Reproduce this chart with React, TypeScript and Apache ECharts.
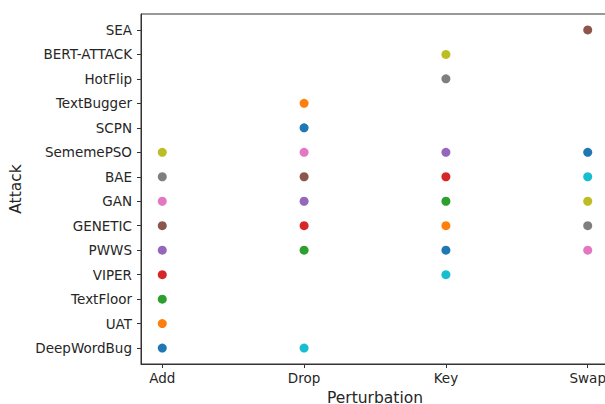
import React, { useEffect, useRef } from "react";
import * as echarts from "echarts";

const perturbations = ["Add", "Drop", "Key", "Swap"];
const attacks = [
  "DeepWordBug", "UAT", "TextFloor", "VIPER", "PWWS", "GENETIC", "GAN",
  "BAE", "SememePSO", "SCPN", "TextBugger", "HotFlip", "BERT-ATTACK", "SEA",
];
const addAttacks = ["DeepWordBug", "UAT", "TextFloor", "VIPER", "PWWS", "GENETIC", "GAN", "BAE", "SememePSO"];
const dropAttacks = ["DeepWordBug", "SCPN", "TextBugger", "PWWS", "GENETIC", "GAN", "BAE", "SememePSO"];
const keyAttacks = ["HotFlip", "BERT-ATTACK", "VIPER", "PWWS", "GENETIC", "GAN", "BAE", "SememePSO"];
const swapAttacks = ["SEA", "PWWS", "GENETIC", "GAN", "BAE", "SememePSO"];
const attacksByPerturbation = [addAttacks, dropAttacks, keyAttacks, swapAttacks];

const palette = [
  "#1f77b4", "#ff7f0e", "#2ca02c", "#d62728", "#9467bd",
  "#8c564b", "#e377c2", "#7f7f7f", "#bcbd22", "#17becf",
];

export default function App() {
  const ref = useRef<HTMLDivElement>(null);
  useEffect(() => {
    document.body.style.margin = "0";
    const chart = echarts.init(ref.current!, null, { renderer: "svg" });
    const data: any[] = [];
    let k = 0;
    attacksByPerturbation.forEach((list, pi) => {
      list.forEach((a) => {
        data.push({
          value: [pi, attacks.indexOf(a)],
          itemStyle: { color: palette[k % palette.length], opacity: 1 },
        });
        k++;
      });
    });
    const font = "DejaVu Sans";
    const xTicks = perturbations.map((_, i) => i);
    const yTicks = attacks.map((_, i) => i);
    chart.setOption({
      animation: false,
      backgroundColor: "#ffffff",
      grid: {
        left: 141,
        top: 14,
        width: 468,
        height: 350,
        show: true,
        borderColor: "#333333",
        borderWidth: 1,
        backgroundColor: "transparent",
        containLabel: false,
        outerBoundsMode: "none",
      },
      xAxis: {
        type: "value",
        min: -0.15,
        max: 3.15,
        name: "Perturbation",
        nameLocation: "middle",
        nameGap: 23,
        nameTextStyle: { fontFamily: font, fontSize: 15.5, color: "#262626" },
        axisLine: { show: true, onZero: false, lineStyle: { color: "#333333", width: 1 } },
        axisTick: { show: true, inside: false, length: 4, customValues: xTicks, lineStyle: { color: "#333333", width: 1 } },
        axisLabel: {
          customValues: xTicks,
          formatter: (v: number) => perturbations[Math.round(v)] ?? "",
          fontFamily: font,
          fontSize: 13.5,
          color: "#262626",
          margin: 7,
        },
        splitLine: { show: false },
      },
      yAxis: {
        type: "value",
        min: -0.65,
        max: 13.65,
        name: "Attack",
        nameLocation: "middle",
        nameGap: 105,
        nameTextStyle: { fontFamily: font, fontSize: 15.5, color: "#262626" },
        axisLine: { show: true, onZero: false, lineStyle: { color: "#333333", width: 1 } },
        axisTick: { show: true, inside: false, length: 4, customValues: yTicks, lineStyle: { color: "#333333", width: 1 } },
        axisLabel: {
          customValues: yTicks,
          formatter: (v: number) => attacks[Math.round(v)] ?? "",
          fontFamily: font,
          fontSize: 13.5,
          color: "#262626",
          margin: 9,
        },
        splitLine: { show: false },
      },
      series: [
        {
          type: "scatter",
          symbol: "circle",
          symbolSize: 9,
          itemStyle: { opacity: 1 },
          data,
        },
      ],
    });
    return () => chart.dispose();
  }, []);
  return <div ref={ref} style={{ width: 605, height: 404 }} />;
}
